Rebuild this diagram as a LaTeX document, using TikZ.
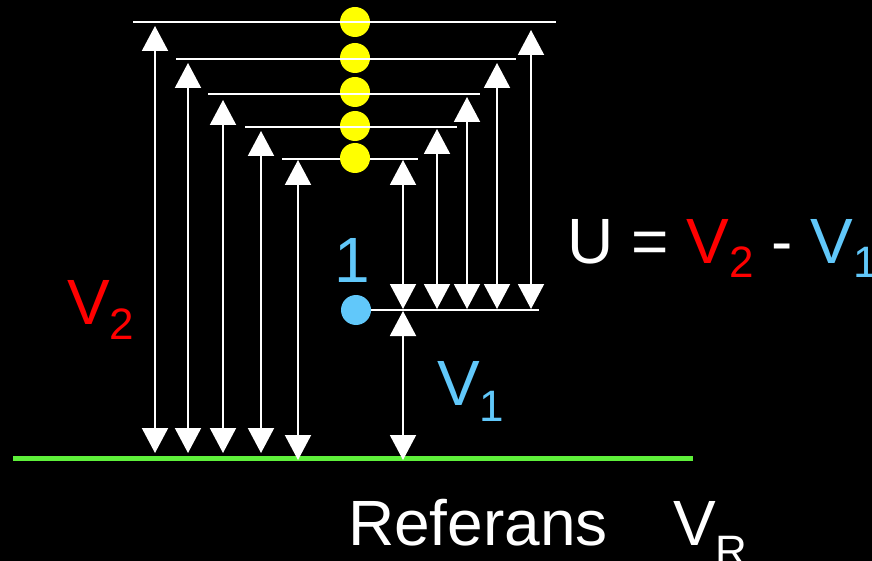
\documentclass[tikz,border=0pt]{standalone}
\usepackage{fontspec}
\setmainfont{Liberation Sans}
\usetikzlibrary{arrows.meta}
\definecolor{vred}{RGB}{255,0,0}
\definecolor{vblue}{RGB}{97,200,250}
\definecolor{vgreen}{RGB}{94,240,58}
\definecolor{vyellow}{RGB}{255,255,0}
\newcommand\lowsub[2]{\raisebox{-#1pt}{\fontsize{44}{44}\selectfont #2}}
\begin{document}
\begin{tikzpicture}[x=1pt,y=-1pt,
  dim/.style={draw=white, line width=2pt, {Triangle[width=26pt,length=25pt]}-{Triangle[width=26pt,length=25pt]}},
  level/.style={draw=white, line width=2pt},
  ybead/.style={circle, fill=vyellow, minimum size=30pt, inner sep=0pt},
  bbead/.style={circle, fill=vblue, minimum size=30pt, inner sep=0pt},
  bigtxt/.style={font=\fontsize{64}{64}\selectfont, inner sep=0pt, anchor=base west},
]
\fill[black] (0,0) rectangle (872,561);
\useasboundingbox (0,0) rectangle (872,561);

% level line 5 (behind bead)
\coordinate (l5a) at (282,159); \coordinate (l5b) at (418,159);
\draw[level] (l5a) -- (l5b);

% beads
\node[ybead] (y1) at (355,22) {};
\node[ybead] (y2) at (355,58) {};
\node[ybead] (y3) at (355,92) {};
\node[ybead] (y4) at (355,126) {};
\node[ybead] (y5) at (355,158) {};
\node[bbead] (b1) at (356,310) {};

% level lines
\coordinate (l1a) at (133,22);  \coordinate (l1b) at (556,22);
\coordinate (l2a) at (176,59);  \coordinate (l2b) at (516,59);
\coordinate (l3a) at (208,94);  \coordinate (l3b) at (480,94);
\coordinate (l4a) at (245,127); \coordinate (l4b) at (457,127);
\coordinate (v1b) at (539,310);
\draw[level] (l1a) -- (l1b);
\draw[level] (l2a) -- (l2b);
\draw[level] (l3a) -- (l3b);
\draw[level] (l4a) -- (l4b);
\draw[level] (b1.east) -- (v1b);

% reference line
\coordinate (g1) at (13,458.5); \coordinate (g2) at (693,458.5);
\draw[vgreen, line width=5.5pt] (g1) -- (g2);

% left arrows (V2 levels)
\coordinate (a1t) at (155,26);  \coordinate (a1b) at (155,453);
\coordinate (a2t) at (188,63);  \coordinate (a2b) at (188,453);
\coordinate (a3t) at (223,100); \coordinate (a3b) at (223,453);
\coordinate (a4t) at (261,131); \coordinate (a4b) at (261,453);
\coordinate (a5t) at (298,160); \coordinate (a5b) at (298,460);
\draw[dim] (a1t) -- (a1b);
\draw[dim] (a2t) -- (a2b);
\draw[dim] (a3t) -- (a3b);
\draw[dim] (a4t) -- (a4b);
\draw[dim] (a5t) -- (a5b);

% right arrows (U)
\coordinate (r1t) at (403,160); \coordinate (r1b) at (403,309);
\coordinate (r2t) at (437,129); \coordinate (r2b) at (437,309);
\coordinate (r3t) at (467,97);  \coordinate (r3b) at (467,309);
\coordinate (r4t) at (497,63);  \coordinate (r4b) at (497,309);
\coordinate (r5t) at (531,30);  \coordinate (r5b) at (531,309);
\draw[dim] (r1t) -- (r1b);
\draw[dim] (r2t) -- (r2b);
\draw[dim] (r3t) -- (r3b);
\draw[dim] (r4t) -- (r4b);
\draw[dim] (r5t) -- (r5b);

% V1 arrow
\coordinate (v1t) at (403,311); \coordinate (v1g) at (403,460);
\draw[dim] (v1t) -- (v1g);

% labels
\node[bigtxt, text=vblue] (one) at (334,282) {1};
\node[bigtxt, text=vred] (lv2) at (67,324) {V\lowsub{15}{2}};
\node[bigtxt, text=vblue] (lv1) at (437,405) {V\lowsub{16}{1}};
\node[bigtxt, text=white] (form) at (567,263) {U = \textcolor{vred}{V\lowsub{14}{2}} - \textcolor{vblue}{V\lowsub{14}{1}}};
\node[bigtxt, text=white] (ref) at (348,545) {Referans};
\node[bigtxt, text=white] (vr) at (673,545) {V\lowsub{21}{R}};
\end{tikzpicture}
\end{document}
